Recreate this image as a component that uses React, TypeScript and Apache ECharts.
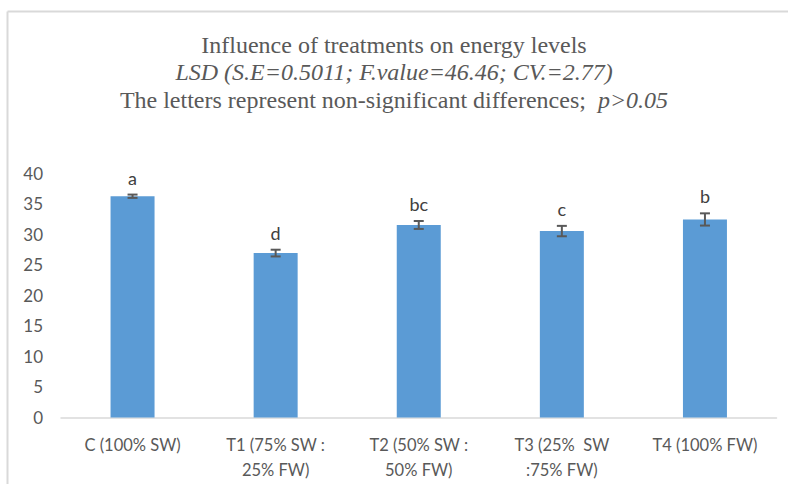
import React, { useEffect, useRef } from "react";
import * as echarts from "echarts";

const categories = [
  "C (100% SW)",
  "T1 (75% SW :\n25% FW)",
  "T2 (50% SW :\n50% FW)",
  "T3 (25%  SW\n:75% FW)",
  "T4 (100% FW)",
];
const means = [36.2, 26.9, 31.5, 30.5, 32.4];
const errors = [0.27, 0.55, 0.65, 0.85, 1.0];
const letters = ["a", "d", "bc", "c", "b"];
const yTicks = { min: 0, max: 40, interval: 5 };

const SANS = "Lato, 'Open Sans', 'Noto Sans', sans-serif";
const SERIF = "'Liberation Serif', 'DejaVu Serif', serif";

export default function App() {
  const ref = useRef<HTMLDivElement>(null);
  useEffect(() => {
    const chart = echarts.init(ref.current!, undefined, { renderer: "svg" });
    chart.setOption({
      animation: false,
      backgroundColor: "#ffffff",
      title: {
        left: "center",
        top: 28,
        text: "Influence of treatments on energy levels",
        subtext: "{i|LSD (S.E=0.5011; F.value=46.46; CV.=2.77)}\n{n|The letters represent non-significant differences;  }{i|p>0.05}",
        itemGap: 1,
        textStyle: {
          fontFamily: SERIF,
          fontSize: 24,
          fontWeight: "normal",
          color: "#595959",
        },
        subtextStyle: {
          fontFamily: SERIF,
          fontSize: 24,
          color: "#595959",
          lineHeight: 28,
          rich: {
            i: { fontFamily: SERIF, fontSize: 24, fontStyle: "italic", color: "#595959", lineHeight: 28 },
            n: { fontFamily: SERIF, fontSize: 24, color: "#595959", lineHeight: 28 },
          },
        },
      },
      graphic: [
        { type: "line", shape: { x1: 7.5, y1: 11.5, x2: 788, y2: 11.5 }, style: { stroke: "#d9d9d9", lineWidth: 2 } },
        { type: "line", shape: { x1: 7.5, y1: 11.5, x2: 7.5, y2: 484 }, style: { stroke: "#d9d9d9", lineWidth: 2 } },
      ],
      grid: { left: 61, right: 11.5, top: 173, bottom: 66.5, containLabel: false },
      xAxis: {
        type: "category",
        data: categories,
        axisLine: { show: true, lineStyle: { color: "#d9d9d9", width: 1.5 } },
        axisTick: { show: false },
        axisLabel: {
          interval: 0,
          margin: 15,
          fontFamily: SANS,
          fontSize: 16.5,
          lineHeight: 25,
          color: "#595959",
        },
      },
      yAxis: {
        type: "value",
        min: yTicks.min,
        max: yTicks.max,
        interval: yTicks.interval,
        axisLine: { show: false },
        axisTick: { show: false },
        splitLine: { show: false },
        axisLabel: { margin: 18, fontFamily: SANS, fontSize: 17, color: "#595959" },
      },
      series: [
        {
          type: "bar",
          data: means,
          barWidth: 44,
          itemStyle: { color: "#5b9bd5" },
        },
        {
          type: "custom",
          data: means.map((m, i) => [i, m, errors[i]]),
          z: 10,
          renderItem: (params: any, api: any) => {
            const i = api.value(0);
            const m = api.value(1);
            const e = api.value(2);
            const top = api.coord([i, m + e]);
            const bot = api.coord([i, m - e]);
            const x = top[0];
            const cap = 5;
            const stroke = { stroke: "#595959", lineWidth: 2 };
            return {
              type: "group",
              children: [
                { type: "line", shape: { x1: x, y1: top[1], x2: x, y2: bot[1] }, style: stroke },
                { type: "line", shape: { x1: x - cap, y1: top[1], x2: x + cap, y2: top[1] }, style: stroke },
                { type: "line", shape: { x1: x - cap, y1: bot[1], x2: x + cap, y2: bot[1] }, style: stroke },
                {
                  type: "text",
                  x: x,
                  y: top[1] - 17,
                  style: {
                    text: letters[params.dataIndex],
                    align: "center",
                    verticalAlign: "middle",
                    fontFamily: SANS,
                    fontSize: 18,
                    fill: "#404040",
                  },
                },
              ],
            };
          },
        },
      ],
    });
    return () => chart.dispose();
  }, []);
  return (
    <div
      ref={ref}
      style={{ position: "absolute", left: 0, top: 0, width: 788, height: 484 }}
    />
  );
}
